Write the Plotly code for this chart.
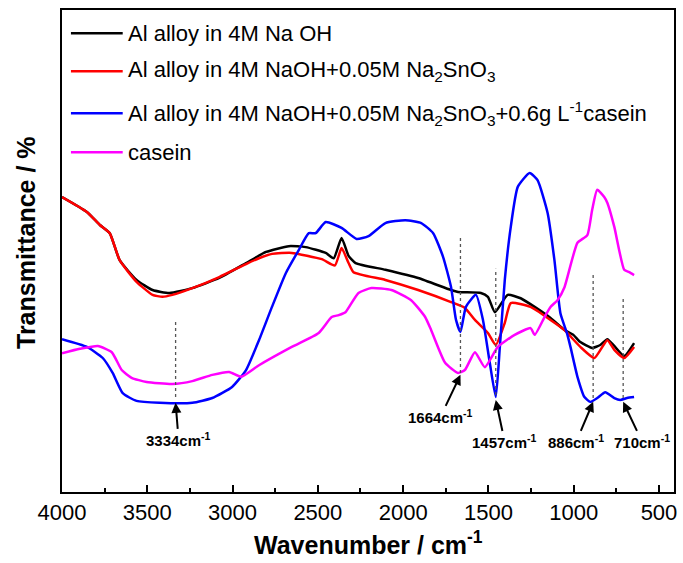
import plotly.graph_objects as go

# ---------------- data (wavenumber in cm^-1, transmittance in arbitrary units) ----------------
wn_black = [4000, 3854, 3778, 3720, 3662, 3563, 3469, 3370, 3236, 3078, 2921, 2804, 2670, 2571, 2454,
            2407, 2361, 2320, 2279, 2104, 1912, 1719, 1678, 1544, 1503, 1462, 1387, 1311, 1229, 1136,
            1054, 1002, 961, 892, 844, 803, 762, 704, 646]
T_black = [61.2, 58.1, 55.4, 53.7, 48.1, 44.0, 41.9, 41.3, 42.3, 44.4, 47.5, 49.8, 51.0, 50.8, 49.6,
           48.5, 52.7, 49.0, 47.5, 46.1, 44.4, 41.9, 41.5, 41.3, 40.5, 37.3, 40.9, 40.2, 38.4, 36.1,
           33.6, 32.6, 31.1, 29.9, 30.5, 31.7, 30.3, 28.2, 30.9]

wn_red = [4000, 3854, 3778, 3720, 3662, 3563, 3469, 3411, 3353, 3236, 3078, 2921, 2845, 2769, 2653,
          2477, 2400, 2361, 2320, 2291, 2104, 1912, 1719, 1638, 1579, 1503, 1457, 1404, 1369, 1253,
          1136, 1054, 961, 879, 803, 762, 704, 646]
T_red = [61.2, 58.1, 55.4, 53.7, 48.1, 43.6, 40.9, 40.5, 40.9, 42.3, 44.6, 47.3, 48.5, 49.4, 49.6,
         48.3, 47.0, 50.6, 47.5, 45.6, 44.0, 41.9, 39.4, 38.2, 35.7, 33.0, 30.5, 35.1, 39.2, 38.4,
         35.7, 33.6, 30.1, 27.8, 31.5, 29.5, 27.8, 30.1]

wn_blue = [4000, 3854, 3761, 3703, 3644, 3563, 3428, 3236, 3119, 3003, 2921, 2845, 2769, 2688, 2612,
           2553, 2513, 2454, 2361, 2273, 2203, 2104, 1987, 1894, 1824, 1766, 1719, 1690, 1664, 1632,
           1573, 1532, 1492, 1457, 1433, 1404, 1369, 1328, 1258, 1212, 1153, 1113, 1078, 1040, 1019,
           978, 937, 903, 862, 815, 762, 727, 687, 646]
T_blue = [31.7, 30.1, 27.8, 24.7, 20.5, 18.9, 18.5, 18.5, 19.5, 21.8, 25.3, 31.5, 38.4, 45.4, 50.2,
          53.7, 53.7, 56.0, 54.8, 52.5, 53.1, 55.8, 56.4, 55.8, 53.7, 48.8, 42.5, 35.7, 33.2, 38.4,
          40.9, 35.7, 26.8, 19.7, 30.1, 44.0, 55.0, 63.3, 66.2, 64.7, 57.9, 48.1, 37.1, 33.0, 30.1,
          23.9, 19.7, 18.7, 19.5, 20.7, 19.5, 19.1, 19.5, 19.7]

wn_casein = [4000, 3895, 3790, 3708, 3650, 3592, 3504, 3353, 3236, 3119, 3020, 2950, 2845, 2653, 2495,
             2419, 2378, 2338, 2262, 2186, 2069, 1953, 1871, 1836, 1754, 1678, 1638, 1579, 1521, 1445,
             1346, 1253, 1229, 1171, 1136, 1095, 1054, 978, 920, 892, 862, 821, 803, 762, 704, 675, 646]
T_casein = [28.8, 29.7, 30.3, 29.0, 25.3, 23.7, 22.8, 22.4, 23.0, 24.3, 24.9, 23.9, 26.3, 30.1, 33.0,
            36.3, 36.7, 37.3, 41.3, 42.3, 41.9, 39.8, 36.3, 33.6, 26.8, 24.7, 25.3, 29.0, 25.9, 30.1,
            32.6, 34.0, 32.6, 36.3, 38.4, 39.8, 42.5, 51.7, 53.3, 58.5, 62.7, 61.2, 60.0, 55.0, 46.1,
            45.6, 45.0]

series_names = [
    "Al alloy in 4M Na OH",
    "Al alloy in 4M NaOH+0.05M Na<sub>2</sub>SnO<sub>3</sub>",
    "Al alloy in 4M NaOH+0.05M Na<sub>2</sub>SnO<sub>3</sub>+0.6g L<sup>-1</sup>casein",
    "casein",
]
series_colors = ["#000000", "#ff0000", "#0000ff", "#ff00ff"]

# marked peaks
peak_wn = [3334, 1664, 1457, 886, 710]
peak_T = [18.5, 24.3, 19.1, 18.7, 18.7]
peak_labels = ["3334cm<sup>-1</sup>", "1664cm<sup>-1</sup>", "1457cm<sup>-1</sup>",
               "886cm<sup>-1</sup>", "710cm<sup>-1</sup>"]
guide_top = [35.3, 52.9, 46.3, 45.0, 40.5]
guide_bottom = [19.7, 24.7, 20.1, 19.5, 19.5]

x_ticks = [4000, 3500, 3000, 2500, 2000, 1500, 1000, 500]

FONT = "Liberation Sans, Arial, sans-serif"

fig = go.Figure()
all_x = [wn_black, wn_red, wn_blue, wn_casein]
all_y = [T_black, T_red, T_blue, T_casein]
for name, xs, ys, col in zip(series_names, all_x, all_y, series_colors):
    fig.add_trace(go.Scatter(x=xs, y=ys, mode="lines", name=name, showlegend=False,
                             line=dict(color=col, width=2.5, shape="spline", smoothing=0.5)))

# dotted guide lines
for w, t0, t1 in zip(peak_wn, guide_top, guide_bottom):
    fig.add_shape(type="line", xref="x", yref="y", x0=w, x1=w, y0=t1, y1=t0,
                  line=dict(color="#555555", width=1.3, dash="dot"))

# arrows + labels
arrow_off = [(3, 37), (-20, 42), (9, 42), (-17, 40), (19, 40)]
for w, t, lab, (ax, ay) in zip(peak_wn, peak_T, peak_labels, arrow_off):
    fig.add_annotation(x=w, y=t, xref="x", yref="y", text="<b>" + lab + "</b>",
                       showarrow=True, ax=ax, ay=ay, arrowhead=2, arrowsize=1, arrowwidth=2,
                       arrowcolor="black", standoff=0,
                       font=dict(family=FONT, size=15, color="black"))

# legend (manual, inside plot)
leg_y = [0.952, 0.873, 0.786, 0.705]
for name, col, yy in zip(series_names, series_colors, leg_y):
    fig.add_shape(type="line", xref="paper", yref="paper", x0=0.0146, x1=0.0992, y0=yy, y1=yy,
                  line=dict(color=col, width=2.5))
    fig.add_annotation(xref="paper", yref="paper", x=0.104, y=yy, xanchor="left", yanchor="middle",
                       text=name, showarrow=False, font=dict(family=FONT, size=22, color="black"))

# axis titles
fig.add_annotation(xref="paper", yref="paper", x=0.5, y=-0.106, xanchor="center", yanchor="middle",
                   text="<b>Wavenumber / cm<sup>-1</sup></b>", showarrow=False,
                   font=dict(family=FONT, size=25, color="black"))
fig.add_annotation(xref="paper", yref="paper", x=-0.0585, y=0.517, xanchor="center", yanchor="middle",
                   text="<b>Transmittance / %</b>", textangle=-90, showarrow=False,
                   font=dict(family=FONT, size=25, color="black"))

fig.update_layout(
    width=683, height=563,
    margin=dict(l=62, r=6, t=10, b=71),
    paper_bgcolor="white", plot_bgcolor="white",
    font=dict(family=FONT, color="black"),
    xaxis=dict(range=[4000, 412], tickmode="array", tickvals=x_ticks,
               ticktext=[str(v) for v in x_ticks],
               ticks="inside", ticklen=7, tickwidth=1.5, tickcolor="black",
               showline=True, linewidth=2, linecolor="black", mirror=True,
               showgrid=False, zeroline=False,
               tickfont=dict(family=FONT, size=22, color="black"),
               minor=dict(tickmode="linear", tick0=0, dtick=250, ticks="inside", ticklen=4,
                          tickwidth=1.5, tickcolor="black", showgrid=False)),
    yaxis=dict(range=[0, 100], showticklabels=False, ticks="",
               showline=True, linewidth=2, linecolor="black", mirror=True,
               showgrid=False, zeroline=False),
)

fig.write_html("out.html")
